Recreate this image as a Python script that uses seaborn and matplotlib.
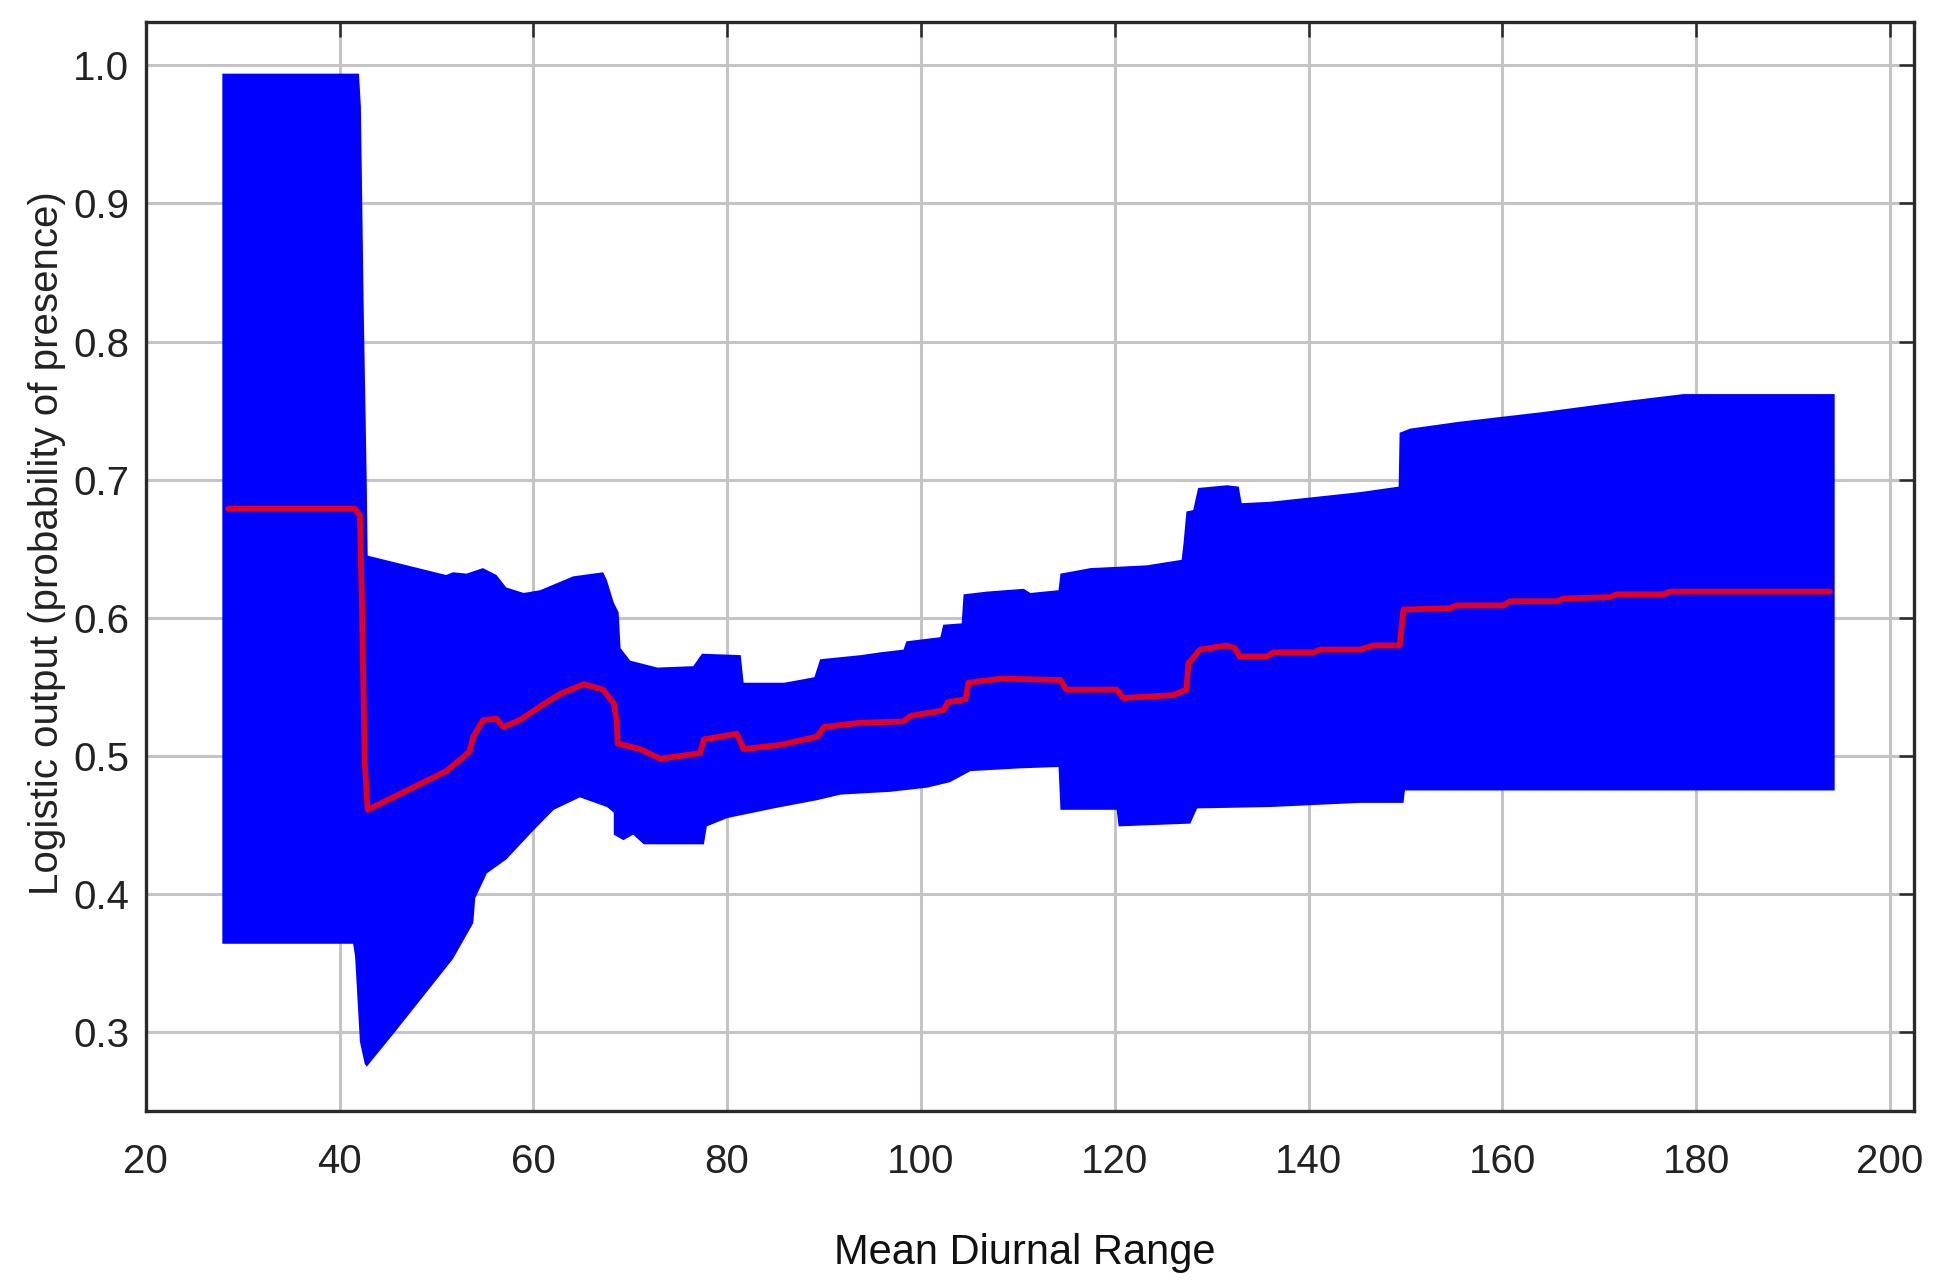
import numpy as np
import matplotlib
matplotlib.use("Agg")
import matplotlib.pyplot as plt
import seaborn as sns

# ==============================================================================
# DATA
# ==============================================================================

# upper edge of the +/- sd band
upper_x = [27.9, 42.0, 42.2, 42.5, 42.8, 42.9, 43.5, 51.0, 51.7, 53.1, 54.8, 56.2, 57.2,
           59.0, 60.7, 64.1, 67.2, 67.6, 68.3, 68.8, 69.0, 70.0, 72.8, 76.5, 77.4, 81.4,
           81.7, 85.9, 89.0, 89.6, 93.8, 95.8, 98.2, 98.5, 102.0, 102.3, 104.2, 104.4,
           106.8, 110.6, 111.3, 114.2, 114.4, 117.5, 123.3, 126.9, 127.1, 127.4, 128.1,
           128.6, 131.6, 132.8, 133.1, 136.0, 145.3, 149.3, 149.4, 150.5, 155.6, 164.2,
           172.8, 178.7, 194.3]
upper_y = [0.994, 0.994, 0.970, 0.820, 0.700, 0.645, 0.644, 0.631, 0.633, 0.632, 0.636,
           0.631, 0.622, 0.618, 0.620, 0.630, 0.633, 0.627, 0.611, 0.604, 0.578, 0.569,
           0.564, 0.565, 0.574, 0.573, 0.553, 0.553, 0.557, 0.570, 0.573, 0.575, 0.577,
           0.583, 0.586, 0.595, 0.596, 0.617, 0.619, 0.621, 0.618, 0.620, 0.632, 0.636,
           0.638, 0.642, 0.654, 0.677, 0.678, 0.694, 0.696, 0.695, 0.683, 0.684, 0.691,
           0.695, 0.734, 0.737, 0.742, 0.749, 0.757, 0.762, 0.762]

# lower edge of the band
lower_x = [27.9, 41.4, 41.6, 42.1, 42.6, 42.8, 45.7, 51.7, 53.8, 54.0, 55.2, 57.2, 60.0,
           62.1, 64.8, 67.6, 68.3, 68.3, 69.3, 70.3, 71.4, 77.6, 77.9, 80.0, 84.8, 89.3,
           91.7, 96.8, 100.6, 103.0, 105.1, 110.2, 114.2, 114.4, 120.2, 120.4, 127.8,
           128.5, 136.0, 145.3, 149.8, 149.95, 194.3]
lower_y = [0.364, 0.364, 0.355, 0.293, 0.277, 0.275, 0.300, 0.353, 0.379, 0.397, 0.415,
           0.425, 0.446, 0.461, 0.470, 0.463, 0.459, 0.443, 0.439, 0.443, 0.436, 0.436,
           0.449, 0.455, 0.462, 0.468, 0.472, 0.474, 0.477, 0.481, 0.489, 0.491, 0.492,
           0.461, 0.461, 0.449, 0.451, 0.462, 0.463, 0.466, 0.466, 0.475, 0.475]

# mean response (red line)
mean_x = [28.5, 41.6, 42.1, 42.3, 42.6, 42.9, 51.0, 51.7, 53.4, 53.8, 54.8, 56.2, 56.9,
          58.6, 61.4, 62.8, 65.2, 67.2, 68.3, 68.6, 68.7, 71.0, 73.1, 77.2, 77.6, 81.0,
          81.7, 85.5, 89.3, 90.0, 93.7, 98.2, 98.9, 102.3, 102.8, 104.6, 104.9, 108.2,
          114.4, 115.0, 120.2, 120.9, 126.0, 127.4, 127.6, 128.8, 131.6, 132.4, 132.9,
          135.7, 136.4, 140.5, 141.2, 145.3, 146.7, 149.4, 149.8, 154.6, 155.3, 160.1,
          160.8, 165.6, 166.3, 171.1, 171.8, 176.6, 177.3, 193.8]
mean_y = [0.679, 0.679, 0.674, 0.612, 0.495, 0.461, 0.489, 0.493, 0.503, 0.514, 0.526,
          0.527, 0.521, 0.526, 0.539, 0.545, 0.552, 0.548, 0.538, 0.526, 0.509, 0.505,
          0.498, 0.502, 0.512, 0.516, 0.505, 0.508, 0.514, 0.521, 0.524, 0.525, 0.529,
          0.533, 0.539, 0.541, 0.553, 0.556, 0.555, 0.548, 0.548, 0.542, 0.544, 0.548,
          0.567, 0.577, 0.580, 0.578, 0.572, 0.572, 0.575, 0.575, 0.577, 0.577, 0.580,
          0.580, 0.606, 0.607, 0.609, 0.609, 0.612, 0.612, 0.614, 0.615, 0.617, 0.617,
          0.619, 0.619]

x_ticks = [20, 40, 60, 80, 100, 120, 140, 160, 180, 200]
y_ticks = [0.3, 0.4, 0.5, 0.6, 0.7, 0.8, 0.9, 1.0]

# ==============================================================================
# PLOT
# ==============================================================================

sns.set_theme(style="whitegrid")
plt.rcParams['font.family'] = ['Liberation Sans', 'DejaVu Sans']

fig = plt.figure(figsize=(19.36, 12.8), dpi=100)
ax = fig.add_axes([0.0753, 0.1319, 0.9134, 0.8508])

# band: upper edge forward, lower edge back
band_x = np.concatenate([upper_x, lower_x[::-1]])
band_y = np.concatenate([upper_y, lower_y[::-1]])
ax.fill(band_x, band_y, color="#0000ff", lw=0, zorder=2)

sns.lineplot(x=mean_x, y=mean_y, estimator=None, sort=False,
             color="#e00020", lw=4.2, ax=ax, zorder=3)

ax.set_xlim(20, 202.5)
ax.set_ylim(0.2428, 1.0313)
ax.set_xticks(x_ticks)
ax.set_yticks(y_ticks)
ax.set_yticklabels([f"{v:.1f}" for v in y_ticks])

ax.set_axisbelow(True)
ax.grid(True, color="#c4c4c4", lw=2.2)
for s in ax.spines.values():
    s.set_color("#2a2a2a")
    s.set_linewidth(2.4)

ax.tick_params(direction="in", length=11, width=1.8, color="#2a2a2a",
               top=True, right=True, labelsize=29, labelcolor="#222222")
ax.tick_params(axis="x", pad=23)
ax.tick_params(axis="y", pad=12)

ax.set_xlabel("Mean Diurnal Range", fontsize=30, color="#111111")
ax.set_ylabel("Logistic output (probability of presence)", fontsize=29, color="#222222")
ax.xaxis.label.set_va("center")
ax.yaxis.label.set_va("center")
ax.xaxis.set_label_coords(0.497, -0.130)
ax.yaxis.set_label_coords(-0.0558, 0.522)

plt.savefig("out.png", dpi=100)
